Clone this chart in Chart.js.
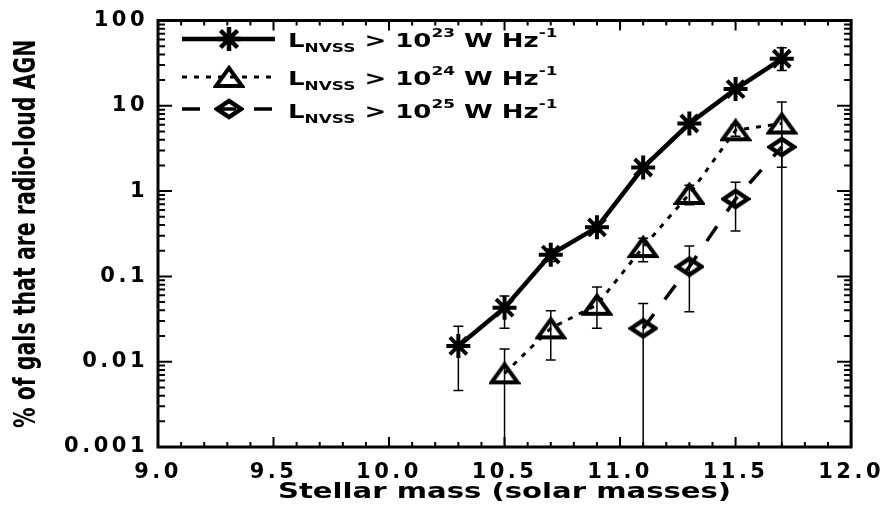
<!DOCTYPE html>
<html>
<head>
<meta charset="utf-8">
<script src="https://cdn.jsdelivr.net/npm/chart.js@4.4.0/dist/chart.umd.min.js"></script>
<style>
  html, body { margin: 0; padding: 0; background: #fff; }
  canvas { display: block; }
</style>
</head>
<body>
<canvas id="chart" width="892" height="511"></canvas>
<script>
// L > 10^23 W/Hz
const mass23 = [10.3, 10.5, 10.7, 10.9, 11.1, 11.3, 11.5, 11.7];
const frac23 = [0.0153, 0.043, 0.18, 0.376, 1.89, 6.2, 15.7, 35.6];
const lo23 = [0.0046, 0.0246, 0.15, 0.33, 1.7, 5.6, 14.5, 26];
const hi23 = [0.026, 0.059, 0.21, 0.43, 2.1, 6.8, 17, 48];

// L > 10^24 W/Hz
const mass24 = [10.5, 10.7, 10.9, 11.1, 11.3, 11.5, 11.7];
const frac24 = [0.0073, 0.0246, 0.0465, 0.221, 0.925, 5.16, 6.2];
const lo24 = [0.0001, 0.0105, 0.0246, 0.149, 0.69, 4.4, 1.9];
const hi24 = [0.0141, 0.0396, 0.075, 0.28, 1.17, 6.0, 11.1];

// L > 10^25 W/Hz
const mass25 = [11.1, 11.3, 11.5, 11.7];
const frac25 = [0.0246, 0.13, 0.81, 3.29];
const lo25 = [0.0001, 0.0386, 0.34, 0.0001];
const hi25 = [0.048, 0.227, 1.27, 5.0];

const legendExp = ['23', '24', '25'];
const xTicks = [9.0, 9.5, 10.0, 10.5, 11.0, 11.5, 12.0];
const yTicks = [0.001, 0.01, 0.1, 1, 10, 100];
const yTickLabels = ['0.001', '0.01', '0.1', '1', '10', '100'];
const xTitle = 'Stellar mass (solar masses)';
const yTitle = '% of gals that are radio-loud AGN';

const FONT = '"DejaVu Sans", "Liberation Sans", sans-serif';

// open markers like the IDL ones (wider than tall)
function makeTriangle() {
    const c = document.createElement('canvas');
    c.width = 32; c.height = 24;
    const g = c.getContext('2d');
    g.strokeStyle = '#000';
    g.lineWidth = 4;
    g.beginPath();
    g.moveTo(16, 3); g.lineTo(29, 21); g.lineTo(3, 21); g.closePath();
    g.stroke();
    return c;
}

function makeDiamond() {
    const c = document.createElement('canvas');
    c.width = 30; c.height = 22;
    const g = c.getContext('2d');
    g.strokeStyle = '#000';
    g.lineWidth = 4.5;
    g.beginPath();
    g.moveTo(3, 11); g.lineTo(15, 3); g.lineTo(27, 11); g.lineTo(15, 19); g.closePath();
    g.stroke();
    return c;
}

const triangle = makeTriangle();
const diamond = makeDiamond();

function pts(xs, ys) {
    return xs.map((x, i) => ({ x: x, y: ys[i] }));
}

const errors = [
    { xs: mass23, lo: lo23, hi: hi23 },
    { xs: mass24, lo: lo24, hi: hi24 },
    { xs: mass25, lo: lo25, hi: hi25 }
];

const extras = {
    id: 'extras',
    beforeDraw(chart) {
        chart.ctx.letterSpacing = '3.5px';
    },
    beforeDatasetsDraw(chart) {
        const ctx = chart.ctx;
        const a = chart.chartArea;
        const xs = chart.scales.x, ys = chart.scales.y;
        ctx.save();
        ctx.letterSpacing = '0px';
        ctx.beginPath();
        ctx.rect(a.left, a.top, a.right - a.left, a.bottom - a.top);
        ctx.clip();
        ctx.strokeStyle = '#000';
        ctx.lineWidth = 1.5;
        errors.forEach(e => {
            e.xs.forEach((m, i) => {
                const px = xs.getPixelForValue(m);
                const y1 = ys.getPixelForValue(e.lo[i]);
                const y2 = ys.getPixelForValue(e.hi[i]);
                ctx.beginPath();
                ctx.moveTo(px, y1); ctx.lineTo(px, y2);
                ctx.moveTo(px - 5, y2); ctx.lineTo(px + 5, y2);
                if (y1 < a.bottom) {
                    ctx.moveTo(px - 5, y1); ctx.lineTo(px + 5, y1);
                }
                ctx.stroke();
            });
        });
        ctx.restore();
    },
    afterDraw(chart) {
        const ctx = chart.ctx;
        const a = chart.chartArea;
        const xs = chart.scales.x, ys = chart.scales.y;
        ctx.save();
        ctx.letterSpacing = '0px';
        ctx.strokeStyle = '#000';
        ctx.fillStyle = '#000';

        // frame
        ctx.lineWidth = 3;
        ctx.strokeRect(a.left, a.top, a.right - a.left, a.bottom - a.top);

        // inward ticks
        ctx.lineWidth = 2;
        ctx.beginPath();
        for (let i = 0; i <= 30; i++) {
            const px = xs.getPixelForValue(9 + i * 0.1);
            const len = i % 5 === 0 ? 10 : 5;
            ctx.moveTo(px, a.bottom); ctx.lineTo(px, a.bottom - len);
            ctx.moveTo(px, a.top); ctx.lineTo(px, a.top + len);
        }
        yTicks.forEach(d => {
            for (let k = 1; k <= 9; k++) {
                const v = d * k;
                if (v > 100) break;
                const py = ys.getPixelForValue(v);
                const len = k === 1 ? 14 : 7;
                ctx.moveTo(a.left, py); ctx.lineTo(a.left + len, py);
                ctx.moveTo(a.right, py); ctx.lineTo(a.right - len, py);
            }
        });
        ctx.stroke();

        // axis titles
        ctx.font = 'bold 20.5px ' + FONT;
        ctx.textAlign = 'center';
        ctx.textBaseline = 'alphabetic';
        ctx.save();
        ctx.translate((a.left + a.right) / 2, 498);
        ctx.scale(1.42, 1);
        ctx.fillText(xTitle, 0, 0);
        ctx.restore();

        ctx.save();
        ctx.translate(27, (a.top + a.bottom) / 2);
        ctx.rotate(-Math.PI / 2);
        ctx.scale(1, 1.45);
        ctx.textBaseline = 'middle';
        ctx.fillText(yTitle, 0, 0);
        ctx.restore();

        // legend
        const lineY = [39, 77, 109];
        const baseY = [47, 85, 118];
        chart.data.datasets.forEach((ds, i) => {
            ctx.save();
            ctx.lineWidth = ds.borderWidth;
            ctx.setLineDash(ds.borderDash || []);
            ctx.beginPath();
            ctx.moveTo(182, lineY[i]); ctx.lineTo(275, lineY[i]);
            ctx.stroke();
            ctx.setLineDash([]);
            ctx.fillStyle = 'transparent';
            Chart.helpers.drawPoint(ctx, {
                pointStyle: ds.pointStyle,
                radius: ds.pointRadius,
                borderWidth: ds.pointBorderWidth,
                rotation: 0
            }, 229, lineY[i]);
            ctx.restore();

            const parts = [
                { t: 'L', size: 20, dy: 0 },
                { t: 'NVSS', size: 13, dy: 5 },
                { t: ' > 10', size: 20, dy: 0 },
                { t: legendExp[i], size: 13, dy: -10 },
                { t: ' W Hz', size: 20, dy: 0 },
                { t: '-1', size: 13, dy: -10 }
            ];
            ctx.save();
            ctx.textAlign = 'left';
            ctx.translate(288, baseY[i]);
            ctx.scale(1.3, 1);
            let cx = 0;
            parts.forEach(p => {
                ctx.font = 'bold ' + p.size + 'px ' + FONT;
                ctx.fillText(p.t, cx, p.dy);
                cx += ctx.measureText(p.t).width;
            });
            ctx.restore();
        });
        ctx.restore();
    }
};

const tickFont = { family: FONT, weight: 'bold', size: 21, lineHeight: 1 };

new Chart(document.getElementById('chart'), {
    type: 'scatter',
    data: {
        datasets: [
            {
                label: 'L > 1e23',
                data: pts(mass23, frac23),
                showLine: true,
                borderColor: '#000',
                borderWidth: 4.5,
                pointStyle: 'star',
                pointRadius: 12,
                pointBorderWidth: 4,
                pointBorderColor: '#000',
                pointBackgroundColor: 'transparent'
            },
            {
                label: 'L > 1e24',
                data: pts(mass24, frac24),
                showLine: true,
                borderColor: '#000',
                borderWidth: 3,
                borderDash: [5, 7],
                pointStyle: triangle,
                pointRadius: 12,
                pointBorderWidth: 0,
                pointBorderColor: '#000',
                pointBackgroundColor: 'transparent'
            },
            {
                label: 'L > 1e25',
                data: pts(mass25, frac25),
                showLine: true,
                borderColor: '#000',
                borderWidth: 3.5,
                borderDash: [18, 18],
                pointStyle: diamond,
                pointRadius: 12,
                pointBorderWidth: 0,
                pointBorderColor: '#000',
                pointBackgroundColor: 'transparent'
            }
        ]
    },
    options: {
        responsive: false,
        animation: false,
        layout: { padding: { top: 12, right: 35, left: 0, bottom: 0 } },
        plugins: {
            legend: { display: false },
            tooltip: { enabled: false }
        },
        scales: {
            x: {
                type: 'linear',
                min: 9,
                max: 12,
                afterBuildTicks: s => { s.ticks = xTicks.map(v => ({ value: v })); },
                afterFit: s => { s.height = 64; },
                grid: { display: false, drawTicks: false },
                border: { display: false },
                ticks: {
                    color: '#000',
                    font: tickFont,
                    padding: 15,
                    maxRotation: 0,
                    autoSkip: false,
                    callback: v => v.toFixed(1)
                }
            },
            y: {
                type: 'logarithmic',
                min: 0.001,
                max: 100,
                afterBuildTicks: s => { s.ticks = yTicks.map(v => ({ value: v })); },
                afterFit: s => { s.width = 158; },
                grid: { display: false, drawTicks: false },
                border: { display: false },
                ticks: {
                    color: '#000',
                    font: tickFont,
                    padding: 10,
                    autoSkip: false,
                    callback: (v, i) => yTickLabels[i]
                }
            }
        }
    },
    plugins: [extras]
});
</script>
</body>
</html>
